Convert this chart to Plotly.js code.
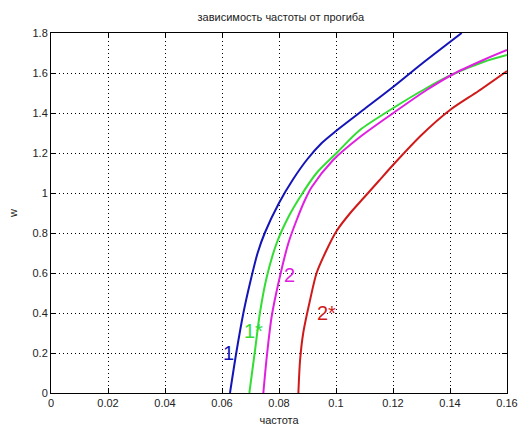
<!DOCTYPE html>
<html>
<head>
<meta charset="utf-8">
<script src="https://cdn.plot.ly/plotly-3.0.1.min.js"></script>
<style>html,body{margin:0;padding:0;background:#fff;}#chart{width:520px;height:430px;}</style>
</head>
<body>
<div id="chart"></div>
<script>
// Curve 1 (blue)
const x1 = [0.0628, 0.0650, 0.0675, 0.0700, 0.0725, 0.0750, 0.0800, 0.0850, 0.0900, 0.0950, 0.1000, 0.1100, 0.1200, 0.1300, 0.1441];
const y1 = [0.00, 0.20, 0.40, 0.56, 0.70, 0.80, 0.95, 1.07, 1.17, 1.25, 1.31, 1.42, 1.53, 1.645, 1.80];
// Curve 1* (green)
const x1s = [0.0696, 0.0716, 0.0733, 0.0757, 0.0792, 0.0833, 0.0874, 0.0932, 0.1002, 0.1084, 0.1201, 0.1318, 0.1412, 0.1517, 0.1600];
const y1s = [0.00, 0.215, 0.40, 0.58, 0.75, 0.88, 0.98, 1.10, 1.20, 1.315, 1.425, 1.525, 1.595, 1.655, 1.69];
// Curve 2 (magenta)
const x2 = [0.0745, 0.0757, 0.0774, 0.0798, 0.0833, 0.0862, 0.0891, 0.0915, 0.0990, 0.1084, 0.1201, 0.1318, 0.1412, 0.1517, 0.1600];
const y2 = [0.00, 0.18, 0.38, 0.55, 0.75, 0.865, 0.965, 1.03, 1.165, 1.28, 1.40, 1.515, 1.595, 1.665, 1.715];
// Curve 2* (red)
const x2s = [0.0868, 0.0874, 0.0885, 0.0909, 0.0932, 0.0967, 0.1002, 0.1050, 0.1100, 0.1150, 0.1200, 0.1300, 0.1400, 0.1500, 0.1600];
const y2s = [0.00, 0.165, 0.30, 0.465, 0.60, 0.715, 0.81, 0.90, 0.98, 1.06, 1.14, 1.29, 1.415, 1.51, 1.61];

const curveNames = ["1", "1*", "2", "2*"];
const labelX = [0.0622, 0.0712, 0.0836, 0.0967];
const labelY = [0.20, 0.31, 0.59, 0.40];

const xTicks = [0, 0.02, 0.04, 0.06, 0.08, 0.1, 0.12, 0.14, 0.16];
const xTickText = ["0", "0.02", "0.04", "0.06", "0.08", "0.1", "0.12", "0.14", "0.16"];
const yTicks = [0, 0.2, 0.4, 0.6, 0.8, 1, 1.2, 1.4, 1.6, 1.8];
const yTickText = ["0", "0.2", "0.4", "0.6", "0.8", "1", "1.2", "1.4", "1.6", "1.8"];

const colors = ["#1414b8", "#33dd33", "#e020e0", "#d01a1a"];
const xs = [x1, x1s, x2, x2s];
const ys = [y1, y1s, y2, y2s];

const traces = xs.map((x, i) => ({
  x: x, y: ys[i], type: "scatter", mode: "lines", name: curveNames[i],
  line: {color: colors[i], width: 2, shape: "spline", smoothing: 0.8},
  hoverinfo: "skip"
}));

const font = {family: "Liberation Sans, Arial, sans-serif", size: 11, color: "#222"};

const annotations = curveNames.map((t, i) => ({
  x: labelX[i], y: labelY[i], xref: "x", yref: "y", text: t, showarrow: false,
  font: {family: "Liberation Sans, Arial, sans-serif", size: 20, color: colors[i]},
  xanchor: "center", yanchor: "middle"
}));

const axisCommon = {
  showline: true, mirror: "ticks", linecolor: "#000", linewidth: 1,
  ticks: "inside", ticklen: 5, tickcolor: "#000",
  showgrid: true, gridcolor: "#000", gridwidth: 1, griddash: "1px,3px",
  zeroline: false, tickfont: font, fixedrange: true
};

const layout = {
  width: 520, height: 430,
  margin: {l: 51, r: 13, t: 33, b: 37},
  paper_bgcolor: "#fff", plot_bgcolor: "#fff",
  showlegend: false,
  title: {text: "зависимость частоты от прогиба", font: font, x: 0.54, xanchor: "center", y: 0.96, yanchor: "middle"},
  xaxis: Object.assign({}, axisCommon, {
    range: [0, 0.16], tickvals: xTicks, ticktext: xTickText,
    title: {text: "частота", font: font, standoff: 8}
  }),
  yaxis: Object.assign({}, axisCommon, {
    range: [0, 1.8], tickvals: yTicks, ticktext: yTickText,
    title: {text: "w", font: font, standoff: 12}
  }),
  annotations: annotations
};

Plotly.newPlot("chart", traces, layout, {staticPlot: true});
</script>
</body>
</html>
